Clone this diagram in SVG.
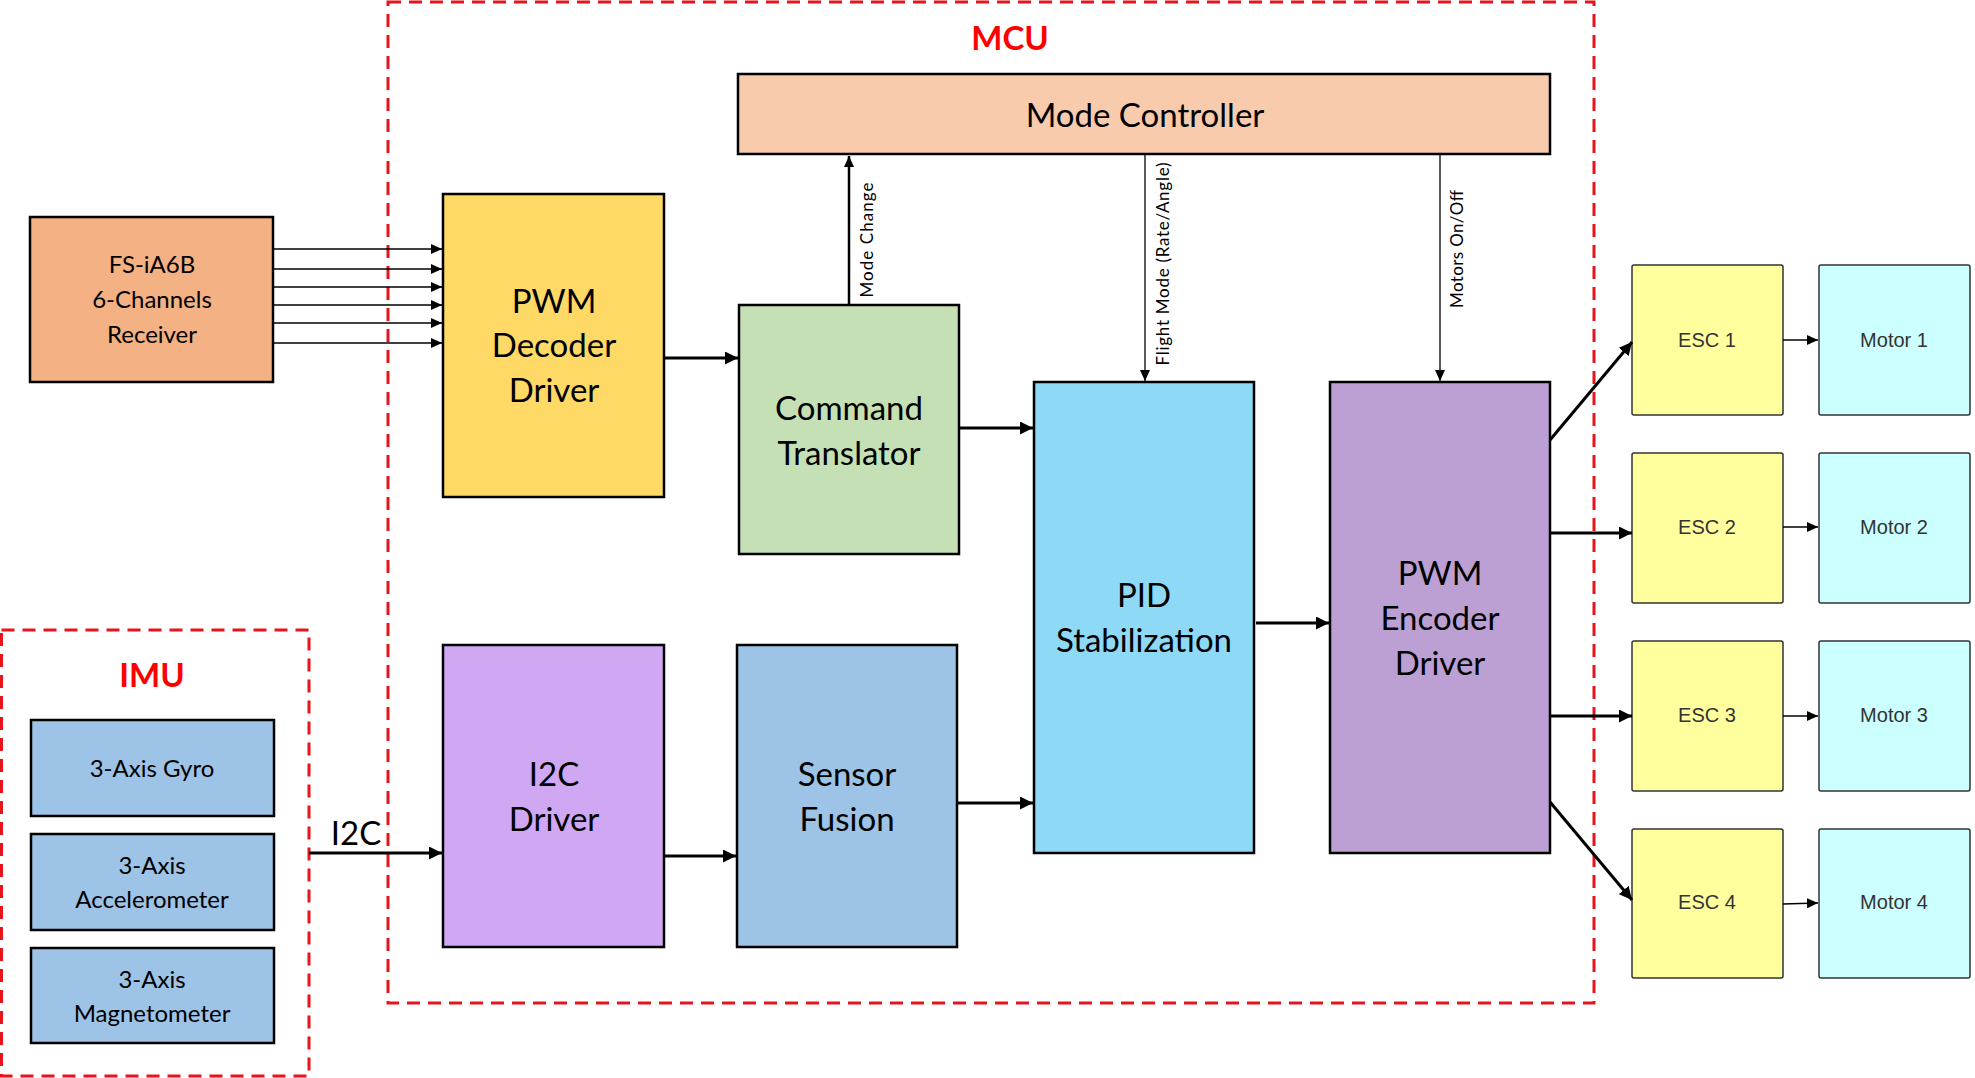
<svg xmlns="http://www.w3.org/2000/svg" width="1975" height="1078" viewBox="0 0 1975 1078">
<defs>
<style>
.box{stroke:#000;stroke-width:2.5}
.sm{stroke:#333;stroke-width:1.5}
.t{font-family:Lato,"Open Sans",sans-serif;font-size:33px;fill:#000;text-anchor:middle}
.ts{font-family:Lato,"Open Sans",sans-serif;font-size:24px;fill:#000;text-anchor:middle}
.tr{font-family:Lato,"Open Sans",sans-serif;font-size:33px;font-weight:bold;fill:#FF0000;text-anchor:middle}
.ta{font-family:"Liberation Sans",Arial,sans-serif;font-size:20px;fill:#333;text-anchor:middle}
.tv{font-family:Lato,"Open Sans",sans-serif;font-size:17px;fill:#000;text-anchor:middle}
.dash{fill:none;stroke:#E8141C;stroke-width:3;stroke-dasharray:13 8}
.c3{stroke:#000;stroke-width:3;fill:none;marker-end:url(#ah)}
.c1{stroke:#000;stroke-width:1.3;fill:none;marker-end:url(#as)}
</style>
<marker id="ah" markerUnits="userSpaceOnUse" markerWidth="13" markerHeight="13" refX="13" refY="6.5" orient="auto"><path d="M0,0 L13,6.5 L0,13 z" fill="#000"/></marker>
<marker id="as" markerUnits="userSpaceOnUse" markerWidth="11" markerHeight="10" refX="11" refY="5" orient="auto"><path d="M0,0 L11,5 L0,10 z" fill="#000"/></marker>
</defs>
<rect width="1975" height="1078" fill="#fff"/>

<g id="mcu-boundary">
<rect class="dash" x="388" y="2" width="1206" height="1001"/>
<text class="tr" x="1010" y="50">MCU</text>
</g>
<g id="imu-boundary">
<rect class="dash" x="1.5" y="630" width="307.5" height="446"/>
<text class="tr" x="152" y="687">IMU</text>
</g>

<g id="receiver">
<rect class="box" x="30" y="217" width="243" height="165" fill="#F4B183"/>
<text class="ts" x="152" y="273">FS-iA6B</text>
<text class="ts" x="152" y="308">6-Channels</text>
<text class="ts" x="152" y="343">Receiver</text>
</g>
<g id="pwm-decoder">
<rect class="box" x="443" y="194" width="221" height="303" fill="#FFD966"/>
<text class="t" x="554" y="313">PWM</text>
<text class="t" x="554" y="357">Decoder</text>
<text class="t" x="554" y="402">Driver</text>
</g>
<g id="mode-controller">
<rect class="box" x="738" y="74" width="812" height="80" fill="#F8CBAD"/>
<text class="t" x="1145" y="127">Mode Controller</text>
</g>
<g id="command-translator">
<rect class="box" x="739" y="305" width="220" height="249" fill="#C5E0B4"/>
<text class="t" x="849" y="420">Command</text>
<text class="t" x="849" y="465">Translator</text>
</g>
<g id="pid">
<rect class="box" x="1034" y="382" width="220" height="471" fill="#8DD9F6"/>
<text class="t" x="1144" y="607">PID</text>
<text class="t" x="1144" y="652">Stabilization</text>
</g>
<g id="pwm-encoder">
<rect class="box" x="1330" y="382" width="220" height="471" fill="#BDA0D3"/>
<text class="t" x="1440" y="585">PWM</text>
<text class="t" x="1440" y="630">Encoder</text>
<text class="t" x="1440" y="675">Driver</text>
</g>
<g id="i2c-driver">
<rect class="box" x="443" y="645" width="221" height="302" fill="#D0A7F3"/>
<text class="t" x="554" y="786">I2C</text>
<text class="t" x="554" y="831">Driver</text>
</g>
<g id="sensor-fusion">
<rect class="box" x="737" y="645" width="220" height="302" fill="#9DC3E6"/>
<text class="t" x="847" y="786">Sensor</text>
<text class="t" x="847" y="831">Fusion</text>
</g>
<g id="gyro">
<rect class="box" x="31" y="720" width="243" height="96" fill="#9DC3E6"/>
<text class="ts" x="152" y="777">3-Axis Gyro</text>
</g>
<g id="accelerometer">
<rect class="box" x="31" y="834" width="243" height="96" fill="#9DC3E6"/>
<text class="ts" x="152" y="874">3-Axis</text>
<text class="ts" x="152" y="908">Accelerometer</text>
</g>
<g id="magnetometer">
<rect class="box" x="31" y="948" width="243" height="95" fill="#9DC3E6"/>
<text class="ts" x="152" y="988">3-Axis</text>
<text class="ts" x="152" y="1022">Magnetometer</text>
</g>

<g id="esc1"><rect class="sm" x="1632" y="265" width="151" height="150" rx="2" fill="#FFFF9E"/><text class="ta" x="1707" y="347">ESC 1</text></g>
<g id="esc2"><rect class="sm" x="1632" y="453" width="151" height="150" rx="2" fill="#FFFF9E"/><text class="ta" x="1707" y="534">ESC 2</text></g>
<g id="esc3"><rect class="sm" x="1632" y="641" width="151" height="150" rx="2" fill="#FFFF9E"/><text class="ta" x="1707" y="722">ESC 3</text></g>
<g id="esc4"><rect class="sm" x="1632" y="829" width="151" height="149" rx="2" fill="#FFFF9E"/><text class="ta" x="1707" y="909">ESC 4</text></g>
<g id="motor1"><rect class="sm" x="1819" y="265" width="151" height="150" rx="2" fill="#CCFFFF"/><text class="ta" x="1894" y="347">Motor 1</text></g>
<g id="motor2"><rect class="sm" x="1819" y="453" width="151" height="150" rx="2" fill="#CCFFFF"/><text class="ta" x="1894" y="534">Motor 2</text></g>
<g id="motor3"><rect class="sm" x="1819" y="641" width="151" height="150" rx="2" fill="#CCFFFF"/><text class="ta" x="1894" y="722">Motor 3</text></g>
<g id="motor4"><rect class="sm" x="1819" y="829" width="151" height="149" rx="2" fill="#CCFFFF"/><text class="ta" x="1894" y="909">Motor 4</text></g>

<g id="connectors">
<line class="c1" x1="273" y1="249" x2="442" y2="249"/>
<line class="c1" x1="273" y1="269" x2="442" y2="269"/>
<line class="c1" x1="273" y1="287" x2="442" y2="287"/>
<line class="c1" x1="273" y1="305" x2="442" y2="305"/>
<line class="c1" x1="273" y1="323" x2="442" y2="323"/>
<line class="c1" x1="273" y1="343" x2="442" y2="343"/>
<line class="c3" x1="664" y1="358" x2="738" y2="358"/>
<line x1="849" y1="304" x2="849" y2="156" stroke="#000" stroke-width="2.5" marker-end="url(#as)"/>
<line x1="1145" y1="155" x2="1145" y2="381" stroke="#000" stroke-width="1.3" marker-end="url(#as)"/>
<line x1="1440" y1="155" x2="1440" y2="381" stroke="#000" stroke-width="1.3" marker-end="url(#as)"/>
<line class="c3" x1="960" y1="428" x2="1033" y2="428"/>
<line class="c3" x1="958" y1="803" x2="1033" y2="803"/>
<line class="c3" x1="1256" y1="623" x2="1329" y2="623"/>
<line class="c3" x1="309" y1="853" x2="442" y2="853"/>
<line class="c3" x1="664" y1="856" x2="736" y2="856"/>
<line class="c3" x1="1550" y1="440" x2="1632" y2="342"/>
<line class="c3" x1="1550" y1="533" x2="1632" y2="533"/>
<line class="c3" x1="1550" y1="716" x2="1632" y2="716"/>
<line class="c3" x1="1550" y1="802" x2="1632" y2="900"/>
<line class="c1" x1="1783" y1="340" x2="1818" y2="340"/>
<line class="c1" x1="1783" y1="527" x2="1818" y2="527"/>
<line class="c1" x1="1783" y1="716" x2="1818" y2="716"/>
<line class="c1" x1="1783" y1="904" x2="1818" y2="903"/>
<text x="356" y="845" class="t">I2C</text>
<text class="tv" transform="translate(873,240) rotate(-90)" textLength="115">Mode Change</text>
<text class="tv" transform="translate(1169,264) rotate(-90)" textLength="203">Flight Mode (Rate/Angle)</text>
<text class="tv" transform="translate(1463,249) rotate(-90)" textLength="118">Motors On/Off</text>
</g>
</svg>
